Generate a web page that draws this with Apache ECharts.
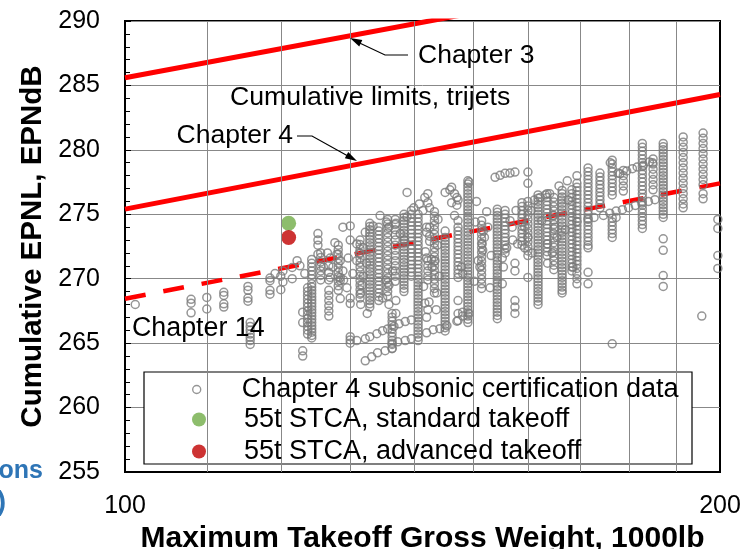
<!DOCTYPE html>
<html><head><meta charset="utf-8">
<script src="https://cdn.jsdelivr.net/npm/echarts@6/dist/echarts.min.js"></script>
<style>html,body{margin:0;padding:0;background:#fff}#c{width:755px;height:549px}</style>
</head><body><div id="c"></div>
<script>
// ---- data ----
const xGridValues = [110, 120, 130, 140, 150, 160, 170, 180, 190];
const chapter3 = [[100, 285.6], [200, 294.2]];
const chapter4 = [[100, 275.4], [200, 284.3]];
const chapter14 = [[100, 268.45], [200, 277.4]];
const stcaStandard = [[121.0, 274.3]];
const stcaAdvanced = [[121.0, 273.2]];
const legendNames = ['Chapter 4 subsonic certification data', '55t STCA, standard takeoff', '55t STCA, advanced takeoff'];

// certification data stacked in columns: [MTOW, EPNL values...]
const certColumns = [
  [108.0, 268.4, 268.1, 267.35],
  [110.0, 268.55, 267.65],
  [112.2, 268.95, 268.7, 268.05, 267.8],
  [115.4, 269.4, 269.1, 268.5, 268.25],
  [115.7, 266.6, 266.3, 266.0, 265.7, 265.45, 265.2, 264.9],
  [118.4, 270.05, 269.85, 269.1, 268.8],
  [119.9, 270.2, 269.15],
  [120.2, 270.6, 269.75],
  [121.5, 270.87, 270.0],
  [123.0, 267.4, 266.6, 264.4, 264.0],
  [123.7, 269.3, 269.0, 268.7, 268.4, 268.1, 267.8, 267.5, 267.2, 266.9, 266.6, 266.3, 266.0, 265.7],
  [124.3, 271.5, 271.2, 270.9, 270.6, 270.3, 270.0, 269.6, 269.35, 269.1, 268.85, 268.6, 268.35, 268.1, 267.85, 267.6, 267.35, 267.1, 266.85, 266.6, 266.35, 266.1, 265.85, 265.6, 265.4],
  [125.2, 273.5, 273.0, 272.6, 271.9],
  [125.6, 272.0, 271.65, 271.3, 270.95, 270.6, 270.25, 269.9],
  [126.8, 271.0, 270.5, 269.9, 269.1, 268.7, 268.3, 267.9, 267.5, 267.1],
  [128.2, 272.6, 272.25, 271.9, 271.55, 271.2, 270.85, 270.5, 270.15, 269.8, 269.45, 269.1],
  [131.5, 273.0, 272.65, 272.3, 271.95, 271.6, 271.25, 270.9, 270.55, 270.2, 269.85, 269.5, 269.15, 268.8, 268.5],
  [133.0, 274.3, 274.05, 273.8, 273.55, 273.3, 273.05, 272.8, 272.55, 272.3, 272.05, 271.8, 271.55, 271.3, 271.05, 270.8, 270.55, 270.3, 270.05, 269.8, 269.55, 269.3, 269.05, 268.8, 268.55, 268.3, 268.05, 267.8],
  [134.4, 274.0, 273.7, 273.4, 273.1, 272.8, 272.5, 272.2, 271.9, 271.6, 271.3, 271.0, 270.7, 270.4, 270.1, 269.8, 269.5, 269.2, 268.9, 268.6, 268.3],
  [135.8, 274.6, 274.25, 273.9, 273.55, 273.2, 272.85, 272.5, 272.15, 271.8, 271.45, 271.1, 270.75, 270.4, 270.05, 269.7, 269.35, 269.0, 268.65],
  [136.5, 267.3, 267.0, 266.7, 266.4, 266.1, 265.8, 265.5, 265.2, 264.9, 264.6],
  [137.0, 274.6, 274.2, 273.8, 273.4, 273.0, 272.6, 272.2, 271.8, 271.4, 271.0, 270.6, 270.2, 269.8],
  [138.4, 275.0, 274.75, 274.5, 274.25, 274.0, 273.75, 273.5, 273.25, 273.0, 272.75, 272.5, 272.25, 272.0, 271.75, 271.5, 271.25, 271.0, 270.75, 270.5, 270.25, 270.0, 269.75, 269.5, 269.25, 269.0],
  [139.6, 275.3, 275.0, 274.7, 274.4, 274.1, 273.8, 273.5, 273.2, 272.9, 272.6, 272.3, 272.0, 271.7, 271.4, 271.1, 270.8, 270.5, 270.2],
  [140.7, 275.0, 274.7, 274.4, 274.1, 273.8, 273.5, 273.2, 272.9, 272.6, 272.3, 272.0, 271.7, 271.4, 271.1, 270.8, 270.5, 270.2, 269.95, 269.7, 269.45, 269.2, 268.95, 268.7, 268.45, 268.2, 267.95, 267.7, 267.45, 267.2, 266.95, 266.7, 266.45, 266.2, 265.95, 265.7, 265.45, 265.2],
  [142.3, 276.6, 275.9, 271.4, 271.0, 270.6, 270.2, 269.9],
  [143.4, 275.2, 274.85, 274.5, 274.15, 273.8, 273.45, 273.1, 272.75, 272.4, 272.05, 271.7, 271.35, 271.0, 270.65, 270.3, 269.95, 269.6, 269.25, 268.9],
  [145.2, 273.2, 272.95, 272.7, 272.45, 272.2, 271.95, 271.7, 271.45, 271.2, 270.95, 270.7, 270.45, 270.2, 269.95, 269.7, 269.45, 269.2, 268.95, 268.7, 268.45, 268.2, 267.95, 267.7, 267.45, 267.2, 266.95, 266.7, 266.45, 266.2, 265.95],
  [147.4, 274.0, 273.7, 273.4, 273.1, 272.8, 272.5, 272.2, 271.9, 271.6, 271.3, 271.0, 270.7, 270.4, 270.1, 268.3],
  [149.1, 277.6, 277.35, 277.1, 276.85, 276.6, 276.35, 276.1, 275.85, 275.6, 275.35, 275.1, 274.85, 274.6, 274.35, 274.1, 273.85, 273.6, 273.35, 273.1, 272.85, 272.6, 272.35, 272.1, 271.85, 271.6, 271.35, 271.1, 270.85, 270.6, 270.35, 270.1, 269.85, 269.6, 269.35, 269.1, 268.85, 268.6, 268.35, 268.1, 267.85, 267.6, 267.35, 267.1, 266.85, 266.6],
  [151.5, 274.5, 274.15, 273.8, 273.45, 273.1, 272.75, 272.4, 272.05, 271.7, 271.35, 271.0, 270.65, 270.3, 269.95, 269.6, 269.25],
  [154.3, 275.4, 275.15, 274.9, 274.65, 274.4, 274.15, 273.9, 273.65, 273.4, 273.15, 272.9, 272.65, 272.4, 272.15, 271.9, 271.65, 271.4, 271.15, 270.9, 270.65, 270.4, 270.15, 269.9, 269.65, 269.4, 269.15, 268.9, 268.65, 268.4, 268.15, 267.9, 267.65, 267.4, 267.15, 266.9],
  [155.7, 275.3, 275.0, 274.7, 274.4, 274.1, 273.8, 273.5, 273.2, 272.9, 272.6, 272.3, 272.0],
  [157.5, 271.2, 270.6, 268.3, 267.8, 267.3],
  [158.8, 275.9, 275.6, 275.3, 275.0, 274.7, 274.4, 274.1, 273.8, 273.5, 273.2, 272.9, 272.6],
  [159.9, 276.0, 275.65, 275.3, 274.95, 274.6, 274.25, 273.9, 273.55, 273.2, 272.85, 272.5, 272.15, 271.8],
  [161.8, 276.5, 276.25, 276.0, 275.75, 275.5, 275.25, 275.0, 274.75, 274.5, 274.25, 274.0, 273.75, 273.5, 273.25, 273.0, 272.75, 272.5, 272.25, 272.0, 271.75, 271.5, 271.25, 271.0, 270.75, 270.5, 270.25, 270.0, 269.75, 269.5, 269.25, 269.0, 268.75, 268.5, 268.25, 268.0],
  [163.5, 276.6, 276.3, 276.0, 275.7, 275.4, 275.1, 274.8, 274.5, 274.2, 273.9, 273.6, 273.3, 273.0, 272.7, 272.4, 272.1, 271.8],
  [164.8, 276.3, 275.95, 275.6, 275.25, 274.9, 274.55, 274.2, 273.85, 273.5, 273.15, 272.8, 272.45, 272.1, 271.75, 271.4, 271.05, 270.7],
  [166.4, 276.85, 276.6, 276.35, 276.1, 275.85, 275.6, 275.35, 275.1, 274.85, 274.6, 274.35, 274.1, 273.85, 273.6, 273.35, 273.1, 272.85, 272.6, 272.35, 272.1, 271.85, 271.6, 271.35, 271.1, 270.85, 270.6, 270.35, 270.1, 269.85, 269.6, 269.35, 269.1, 268.9],
  [168.3, 276.9, 276.6, 276.3, 276.0, 275.7, 275.4, 275.1, 274.8, 274.5, 274.2, 273.9, 273.6, 273.3, 273.0, 272.7, 272.4, 272.1, 271.8, 271.5, 271.2, 270.9, 270.6],
  [169.3, 277.4, 277.1, 276.8, 276.5, 276.2, 275.9, 275.6, 275.3, 275.0, 274.7, 274.4, 274.1, 273.8, 273.5, 273.2, 272.9, 272.6, 272.3, 272.0, 271.7, 271.4, 271.1, 270.8, 270.4, 270.0, 269.6],
  [171.5, 278.6, 278.3, 278.0, 277.7, 277.4, 277.1, 276.8, 276.5, 276.2, 275.9, 275.6, 275.3, 275.0, 274.7, 274.4, 274.1, 273.8, 273.5, 273.2, 272.9, 272.6, 272.4, 270.5, 269.6],
  [173.9, 278.2, 277.9, 277.6, 277.3, 277.0, 276.7, 276.4, 276.1, 275.8, 275.5],
  [176.4, 279.2, 278.9, 278.6, 278.3, 278.0, 277.7, 277.4, 277.1, 276.8, 276.5, 274.7, 274.4, 274.1, 273.8, 273.5, 273.2, 264.95],
  [178.7, 278.4, 278.0, 277.6, 277.2, 276.8],
  [182.7, 280.5, 280.2, 279.9, 279.6, 279.3, 279.0, 278.7, 278.4, 278.1, 277.8, 277.5, 277.2, 276.9, 276.6, 276.3, 276.0, 275.7, 275.4, 275.1, 274.8, 274.5, 274.2, 273.9],
  [185.0, 279.3, 278.9, 278.5, 278.1, 277.7, 277.3, 276.9],
  [187.2, 280.5, 280.25, 280.0, 279.75, 279.5, 279.25, 279.0, 278.75, 278.5, 278.25, 278.0, 277.75, 277.5, 277.25, 277.0, 276.75, 276.5, 276.25, 276.0, 275.75, 275.5, 275.25, 275.0, 274.75, 273.1, 272.2, 270.25, 269.4],
  [191.6, 281.0, 280.6, 280.2, 279.8, 279.4, 279.0, 278.6, 278.2, 277.8, 277.4, 277.0, 276.6, 276.2, 275.8, 275.5],
  [196.1, 281.3, 280.9, 280.5, 280.1, 279.7, 279.3, 278.9, 278.5, 278.1, 277.7, 277.3, 276.6, 276.2],
  [199.5, 274.6, 273.9, 271.8, 270.8]
];

// certification data, individual points: [MTOW, EPNL]
const certPoints = [
  [101.2, 268.0], [119.1, 270.4], [195.8, 267.1], [138.9, 276.7],
  [122.2, 271.4], [122.6, 271.0], [123.3, 270.4],
  [126.0, 270.9], [126.6, 272.0], [127.0, 271.6], [127.4, 270.9], [127.7, 272.8], [128.0, 271.9], [128.5, 271.4],
  [128.9, 270.6], [128.5, 270.1], [127.0, 270.1], [128.9, 274.0], [129.7, 271.6], [130.0, 274.1], [130.0, 273.0],
  [130.4, 270.4], [131.0, 272.7], [131.0, 271.4], [131.4, 272.0], [132.0, 272.4], [132.0, 270.2], [132.3, 273.6],
  [132.5, 271.2], [133.5, 274.1], [134.6, 274.9], [135.6, 274.4], [136.0, 274.0], [137.1, 274.3], [137.8, 273.5],
  [138.9, 274.8], [138.5, 273.0], [140.0, 275.5], [140.9, 275.8], [141.8, 276.3], [141.5, 275.3], [142.1, 274.0],
  [142.1, 273.6], [128.5, 269.86], [128.5, 268.46], [130.0, 268.5], [130.0, 268.07], [129.0, 269.9], [129.5, 269.3],
  [131.6, 268.9], [131.6, 268.0], [131.8, 269.5], [135.5, 269.9], [136.0, 269.5], [136.6, 270.6], [137.1, 268.3],
  [137.1, 267.3], [135.0, 268.5], [136.0, 268.0], [132.6, 267.3], [142.1, 271.6],
  [130.0, 265.5], [130.0, 265.0], [130.0, 265.25],
  [142.6, 275.5], [145.2, 276.7], [146.0, 276.9], [146.8, 276.6], [147.4, 276.1], [146.3, 275.9], [147.2, 275.7],
  [146.8, 274.9], [147.4, 274.5], [145.2, 273.7], [142.6, 274.0], [142.6, 273.3], [142.6, 272.9], [143.5, 271.4],
  [143.0, 270.9], [148.0, 270.9], [148.2, 270.4], [151.6, 272.7], [151.7, 272.2], [150.9, 271.4], [152.0, 273.2],
  [151.2, 270.9], [152.6, 274.0], [151.8, 273.7], [155.2, 271.6], [155.4, 270.9], [155.2, 269.6], [156.6, 274.5],
  [157.0, 274.0], [157.1, 273.0], [158.0, 272.7], [157.7, 275.3], [159.3, 274.0], [159.9, 273.2], [159.3, 272.4],
  [160.7, 272.0], [159.9, 270.1], [161.1, 276.1], [162.2, 276.3], [163.2, 276.5], [164.0, 276.6], [162.5, 274.5],
  [163.6, 272.7], [164.5, 272.0], [163.6, 271.2], [165.0, 274.0], [165.4, 273.2], [167.6, 276.1], [168.5, 270.9],
  [141.9, 272.1], [142.9, 271.5], [141.6, 269.4], [143.8, 268.9], [142.5, 268.2], [143.7, 267.6],
  [146.3, 277.1], [147.2, 276.3], [149.3, 277.5], [165.8, 277.2], [167.4, 277.6], [169.3, 278.0], [176.0, 279.0],
  [177.6, 278.2], [184.9, 279.0], [177.2, 274.75], [143.9, 272.6], [144.2, 270.2], [144.0, 274.6], [150.4, 274.4],
  [150.6, 276.0], [152.4, 275.2], [153.2, 271.8], [153.0, 269.3], [150.2, 269.8], [156.0, 272.4], [160.5, 275.3],
  [164.6, 274.9], [167.0, 273.8],
  [141.8, 268.1], [142.3, 267.6], [142.1, 267.0], [147.4, 267.3], [148.2, 267.4], [147.4, 266.75],
  [131.0, 265.2], [132.3, 265.34], [133.0, 265.5], [134.1, 265.73], [135.0, 265.97], [135.8, 266.1], [136.8, 266.3],
  [137.6, 266.5], [138.6, 266.67], [139.6, 266.8],
  [136.5, 265.0], [137.4, 265.1], [138.6, 265.2], [139.6, 265.34], [142.1, 265.8], [143.2, 266.04], [144.3, 266.12],
  [145.5, 266.35], [147.2, 266.7], [148.2, 267.1], [149.3, 267.3],
  [132.3, 263.63], [133.3, 263.94], [134.2, 264.25], [135.4, 264.41], [136.5, 264.57],
  [169.3, 274.44], [171.5, 274.6], [172.7, 274.75], [174.6, 274.91], [175.9, 275.09], [177.2, 275.25], [178.5, 275.36],
  [179.8, 275.51], [181.2, 275.69], [182.6, 275.87], [184.0, 276.0], [185.4, 276.13],
  [178.0, 278.15], [179.4, 278.36], [180.6, 278.54], [181.6, 278.67], [182.9, 278.8], [184.2, 279.06],
  [153.9, 277.87], [154.8, 278.02], [155.7, 278.18], [156.6, 278.2], [157.5, 278.28], [159.9, 278.28], [159.9, 277.4]
];

// ---- build ----
const certData = certColumns.flatMap(c => c.slice(1).map(y => [c[0], y])).concat(certPoints);
const FONT = 'Liberation Sans, Arial, sans-serif';
const chart = echarts.init(document.getElementById('c'), null, {renderer: 'canvas'});

const legendRows = [390, 420, 452];
const legendIconSize = [8, 14, 14];
const legendStyles = [
  {color: 'rgba(255,255,255,0)', borderColor: '#7a7a7a', borderWidth: 1.4},
  {color: '#70ad47', borderWidth: 0},
  {color: '#c00000', borderWidth: 0}
];

function arrowHead(tip, from, len, half) {
  const dx = tip[0] - from[0], dy = tip[1] - from[1];
  const L = Math.hypot(dx, dy), ux = dx / L, uy = dy / L;
  const bx = tip[0] - len * ux, by = tip[1] - len * uy;
  return [[tip[0], tip[1]], [bx - half * uy, by + half * ux], [bx + half * uy, by - half * ux]];
}

const option = {
  animation: false,
  textStyle: {fontFamily: FONT},
  grid: {left: 125, top: 21, width: 595, height: 451, containLabel: false, outerBoundsMode: 'none',
    show: true, borderColor: '#000', borderWidth: 2, backgroundColor: 'rgba(0,0,0,0)'},
  xAxis: {
    type: 'log', logBase: 10, min: 100, max: 200,
    axisLine: {show: true, onZero: false, lineStyle: {color: '#000', width: 2}},
    axisTick: {show: false},
    axisLabel: {show: true, margin: 22, fontSize: 25, color: '#000', fontFamily: FONT,
      formatter: v => String(Math.round(v))},
    splitLine: {show: false},
    name: 'Maximum Takeoff Gross Weight, 1000lb', nameLocation: 'middle', nameGap: 49,
    nameTextStyle: {fontSize: 30, fontWeight: 'bold', color: '#000', fontFamily: FONT}
  },
  yAxis: {
    type: 'value', min: 255, max: 290, interval: 5,
    axisLine: {show: true, lineStyle: {color: '#000', width: 2}},
    axisTick: {show: true, inside: true, length: 6, lineStyle: {color: '#000', width: 1}},
    minorTick: {show: true, splitNumber: 5, length: 5, lineStyle: {color: '#000', width: 1}},
    axisLabel: {margin: 25, fontSize: 25, color: '#000', fontFamily: FONT},
    splitLine: {show: true, lineStyle: {color: '#888', width: 1}},
    name: 'Cumulative EPNL, EPNdB', nameLocation: 'middle', nameGap: 69,
    nameTextStyle: {fontSize: 29.5, fontWeight: 'bold', color: '#000', fontFamily: FONT}
  },
  legend: legendNames.map((n, i) => ({
    data: [{name: n, icon: 'circle', itemStyle: legendStyles[i]}],
    left: 192, top: legendRows[i] - 14, padding: 0,
    itemWidth: 80, itemHeight: legendIconSize[i], selectedMode: false, z: 10,
    textStyle: {fontSize: 27, color: '#000', fontFamily: FONT}
  })),
  graphic: [
    {type: 'rect', z: 5, shape: {x: 144, y: 372, width: 548, height: 92}, style: {fill: '#fff', stroke: '#000', lineWidth: 1.2}},
    {type: 'text', z: 6, style: {text: 'Chapter 3', x: 418, y: 56, verticalAlign: 'middle', fontSize: 26.5, fontFamily: FONT, fill: '#000'}},
    {type: 'text', z: 6, style: {text: 'Cumulative limits, trijets', x: 230, y: 98, verticalAlign: 'middle', fontSize: 26.7, fontFamily: FONT, fill: '#000'}},
    {type: 'text', z: 6, style: {text: 'Chapter 4', x: 293, y: 136, align: 'right', verticalAlign: 'middle', fontSize: 26.5, fontFamily: FONT, fill: '#000'}},
    {type: 'text', z: 6, style: {text: 'Chapter 14', x: 132, y: 329, verticalAlign: 'middle', fontSize: 26.8, fontFamily: FONT, fill: '#000'}},
    {type: 'polyline', z: 6, shape: {points: [[408, 55], [385, 55], [358, 42.3]]}, style: {stroke: '#000', lineWidth: 1.2, fill: null}},
    {type: 'polygon', z: 6, shape: {points: arrowHead([350, 38], [385, 55], 12, 3.5)}, style: {fill: '#000'}},
    {type: 'polyline', z: 6, shape: {points: [[297, 136], [312, 136], [347, 155.5]]}, style: {stroke: '#000', lineWidth: 1.2, fill: null}},
    {type: 'polygon', z: 6, shape: {points: arrowHead([357, 161], [312, 136], 12, 3.5)}, style: {fill: '#000'}},
    {type: 'text', z: 6, style: {text: 'ons', x: 43, y: 471, align: 'right', verticalAlign: 'middle', fontSize: 25, fontWeight: 'bold', fontFamily: FONT, fill: '#2e75b6'}},
    {type: 'text', z: 6, style: {text: ')', x: 6, y: 502, align: 'right', verticalAlign: 'middle', fontSize: 28, fontWeight: 'bold', fontFamily: FONT, fill: '#2e75b6'}}
  ],
  series: [
    {type: 'line', name: 'grid', data: [], z: 0, silent: true,
      markLine: {silent: true, symbol: ['none', 'none'], label: {show: false}, animation: false,
        lineStyle: {color: '#888', width: 1, type: 'solid'}, emphasis: {disabled: true},
        data: xGridValues.map(v => ({xAxis: v}))}},
    {type: 'line', name: 'Chapter 3', data: chapter3, symbol: 'none', silent: true, z: 1, lineStyle: {color: '#ff0000', width: 5}},
    {type: 'line', name: 'Chapter 4', data: chapter4, symbol: 'none', silent: true, z: 1, lineStyle: {color: '#ff0000', width: 5}},
    {type: 'line', name: 'Chapter 14', data: chapter14, symbol: 'none', silent: true, z: 1, lineStyle: {color: '#ff0000', width: 4.5, type: [21, 18]}},
    {type: 'scatter', name: legendNames[0], data: certData, symbol: 'circle', symbolSize: 8, z: 2, silent: true,
      itemStyle: {color: 'rgba(255,255,255,0)', borderColor: '#7a7a7a', borderWidth: 1.5}},
    {type: 'scatter', name: legendNames[1], data: stcaStandard, symbol: 'circle', symbolSize: 15, z: 3, silent: true,
      itemStyle: {color: '#70ad47'}},
    {type: 'scatter', name: legendNames[2], data: stcaAdvanced, symbol: 'circle', symbolSize: 15, z: 3, silent: true,
      itemStyle: {color: '#c00000'}}
  ]
};
chart.setOption(option);
</script></body></html>
